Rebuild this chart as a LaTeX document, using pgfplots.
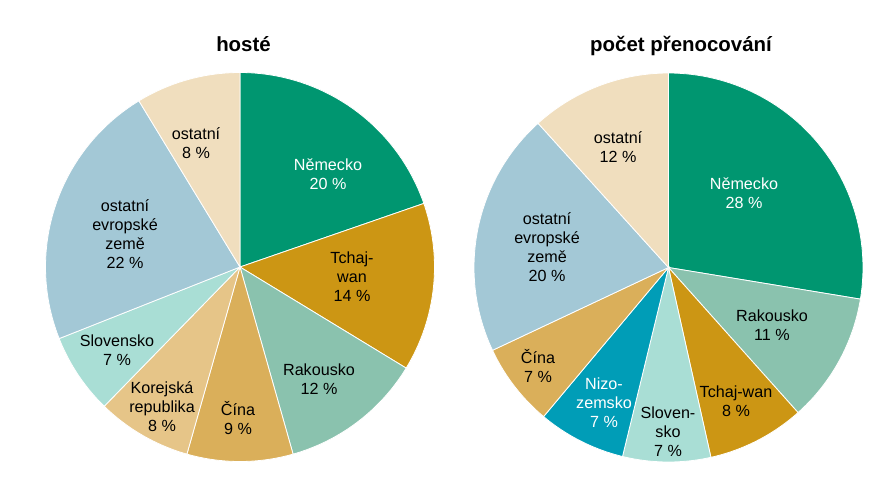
\documentclass[border=0pt]{standalone}
\usepackage{pgfplots}
\pgfplotsset{compat=1.18}
\usepackage{fontspec}
\setmainfont{Liberation Sans}

\definecolor{cDE}{RGB}{0,150,112}
\definecolor{cTW}{RGB}{204,150,20}
\definecolor{cAT}{RGB}{138,194,174}
\definecolor{cCN}{RGB}{218,175,90}
\definecolor{cKR}{RGB}{230,197,136}
\definecolor{cSK}{RGB}{169,222,213}
\definecolor{cEU}{RGB}{163,200,214}
\definecolor{cOT}{RGB}{240,222,190}
\definecolor{cNL}{RGB}{0,157,183}

\tikzset{
  lbl/.style={font=\fontsize{16.2}{19}\selectfont, align=center, inner sep=0pt},
  ttl/.style={font=\fontsize{20.5}{24}\selectfont\bfseries, anchor=base, inner sep=0pt},
}

% one wedge: centre x, centre y, share in %, colour; slices run clockwise from 12 o'clock
\newcommand\startpie{\gdef\acc{90}}
\newcommand\slice[4]{%
  \pgfmathsetmacro\aE{\acc-3.6*#3}%
  \edef\temp{\noexpand\addplot[fill=#4, draw=white, line width=0.8bp,
      domain=\aE:\acc, samples=60, variable=\noexpand\t]
    ({#1+194.5*cos(\noexpand\t)},{#2-194.5*sin(\noexpand\t)}) -- (axis cs:#1,#2) -- cycle;}%
  \temp
  \global\let\acc\aE}

\begin{document}
\begin{tikzpicture}
\begin{axis}[
  width=886bp, height=494bp, scale only axis,
  xmin=0, xmax=886, ymin=0, ymax=494, y dir=reverse,
  hide axis, clip=false,
]
\path (axis cs:0,0) rectangle (axis cs:886,494);

% hosté
\startpie
\slice{240}{267}{19.7}{cDE}
\slice{240}{267}{14.0}{cTW}
\slice{240}{267}{11.9}{cAT}
\slice{240}{267}{8.8}{cCN}
\slice{240}{267}{7.9}{cKR}
\slice{240}{267}{6.7}{cSK}
\slice{240}{267}{22.3}{cEU}
\slice{240}{267}{8.7}{cOT}

% počet přenocování
\startpie
\slice{668.5}{267.5}{27.6}{cDE}
\slice{668.5}{267.5}{10.8}{cAT}
\slice{668.5}{267.5}{8.1}{cTW}
\slice{668.5}{267.5}{7.3}{cSK}
\slice{668.5}{267.5}{7.3}{cNL}
\slice{668.5}{267.5}{6.9}{cCN}
\slice{668.5}{267.5}{20.3}{cEU}
\slice{668.5}{267.5}{11.7}{cOT}

\node[ttl] at (axis cs:243.5,51.5) {hosté};
\node[ttl] at (axis cs:681,51.5) {počet přenocování};

\node[lbl] at (axis cs:196,143) {ostatní\\8 \%};
\node[lbl, text=white] at (axis cs:328,174) {Německo\\20 \%};
\node[lbl] at (axis cs:352,277) {Tchaj-\\wan\\14 \%};
\node[lbl] at (axis cs:319,379) {Rakousko\\12 \%};
\node[lbl] at (axis cs:238,418) {Čína\\9 \%};
\node[lbl] at (axis cs:162,407) {Korejská\\republika\\8 \%};
\node[lbl] at (axis cs:117,350.5) {Slovensko\\7 \%};
\node[lbl] at (axis cs:125,234) {ostatní\\evropské\\země\\22 \%};

\node[lbl] at (axis cs:618,147) {ostatní\\12 \%};
\node[lbl, text=white] at (axis cs:744,193) {Německo\\28 \%};
\node[lbl] at (axis cs:772,325.5) {Rakousko\\11 \%};
\node[lbl] at (axis cs:736,401) {Tchaj-wan\\8 \%};
\node[lbl] at (axis cs:668,432) {Sloven-\\sko\\7 \%};
\node[lbl, text=white] at (axis cs:604,403) {Nizo-\\zemsko\\7 \%};
\node[lbl] at (axis cs:538,366) {Čína\\7 \%};
\node[lbl] at (axis cs:547,247) {ostatní\\evropské\\země\\20 \%};
\end{axis}
\end{tikzpicture}
\end{document}
